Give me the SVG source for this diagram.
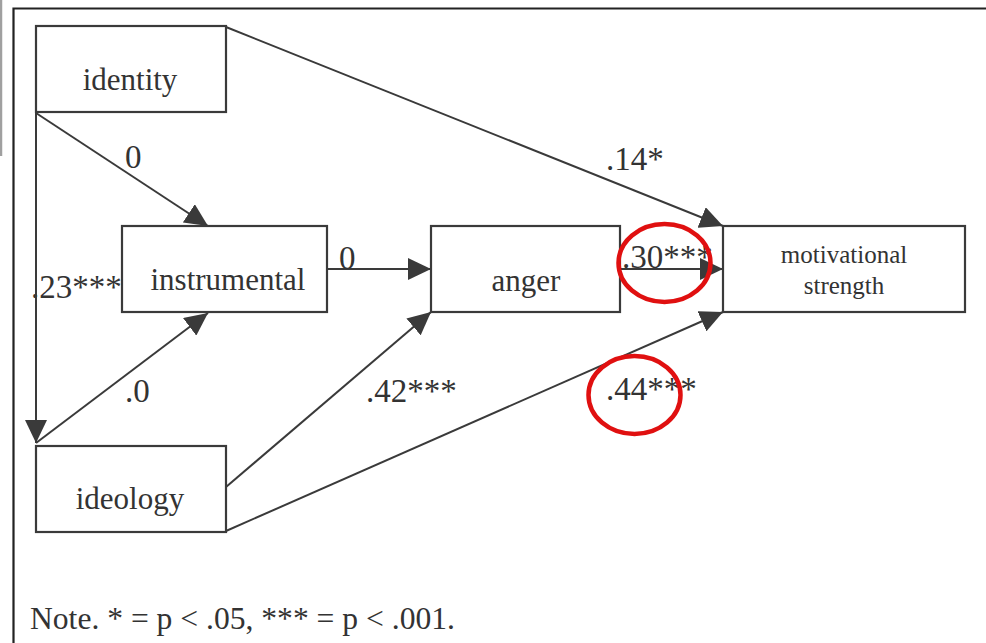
<svg xmlns="http://www.w3.org/2000/svg" width="986" height="643" viewBox="0 0 986 643">
<style>
.box{fill:#fff;stroke:#3a3a3a;stroke-width:2.2}
.lbl{font-family:"Liberation Serif","Times New Roman",serif;font-size:31px;fill:#333}
.num{font-size:33px}
.sm{font-size:25px}
.edge{stroke:#3a3a3a;stroke-width:2;fill:none;marker-end:url(#ah)}
.ring{fill:none;stroke:#e01010;stroke-width:4.5}
</style>
<defs>
<marker id="ah" markerUnits="userSpaceOnUse" markerWidth="23" markerHeight="22" refX="23" refY="11" orient="auto">
<path d="M0,0 L23,11 L0,22 z" fill="#3a3a3a"/>
</marker>
</defs>
<rect width="986" height="643" fill="#fff"/>
<line x1="1" y1="0" x2="1" y2="156" stroke="#a0a0a0" stroke-width="2.5"/>
<path d="M986,8.5 H13.5 V643" fill="none" stroke="#222" stroke-width="2.2"/>
<text class="lbl num" x="31" y="298">.23***</text>
<g id="connectors">
<line class="edge" x1="226" y1="27" x2="723" y2="226"/>
<line class="edge" x1="36" y1="113" x2="208" y2="226"/>
<line class="edge" x1="36" y1="113" x2="36" y2="443"/>
<line class="edge" x1="36" y1="443" x2="208" y2="313"/>
<line class="edge" x1="327" y1="269" x2="431" y2="269"/>
<line class="edge" x1="226" y1="487" x2="431" y2="312"/>
<line class="edge" x1="226" y1="531" x2="723" y2="312"/>
<line class="edge" x1="620" y1="269" x2="723" y2="269"/>
</g>
<g id="identity">
<rect class="box" x="36" y="26" width="190" height="86"/>
<text class="lbl" x="130" y="90" text-anchor="middle">identity</text>
</g>
<g id="instrumental">
<rect class="box" x="122" y="226" width="205" height="86"/>
<text class="lbl" x="228" y="290" text-anchor="middle">instrumental</text>
</g>
<g id="anger">
<rect class="box" x="431" y="226" width="189" height="86"/>
<text class="lbl" x="526" y="291" text-anchor="middle">anger</text>
</g>
<g id="motivational">
<rect class="box" x="723" y="226" width="242" height="86"/>
<text class="lbl sm" x="844" y="263" text-anchor="middle">motivational</text>
<text class="lbl sm" x="844" y="294" text-anchor="middle">strength</text>
</g>
<g id="ideology">
<rect class="box" x="36" y="446" width="190" height="86"/>
<text class="lbl" x="130" y="509" text-anchor="middle">ideology</text>
</g>
<g id="labels">
<text class="lbl num" x="125" y="168">0</text>
<text class="lbl num" x="606" y="170">.14*</text>
<text class="lbl num" x="339" y="269">0</text>
<text class="lbl num" x="125" y="402">.0</text>
<text class="lbl num" x="366" y="402">.42***</text>
<text class="lbl num" x="622" y="268">.30***</text>
<text class="lbl num" x="606" y="400">.44***</text>
<text class="lbl" x="30" y="629" style="font-size:31.6px">Note. * = p &lt; .05, *** = p &lt; .001.</text>
</g>
<ellipse class="ring" cx="664.5" cy="263" rx="46" ry="39"/>
<ellipse class="ring" cx="634.5" cy="395" rx="46" ry="39"/>
</svg>
